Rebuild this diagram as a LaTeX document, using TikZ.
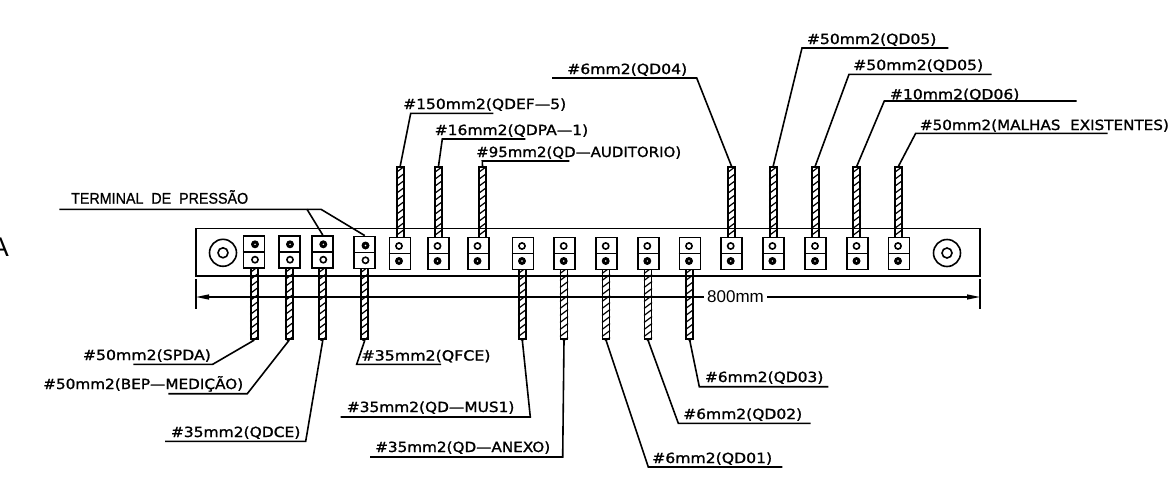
\documentclass[tikz,border=0pt]{standalone}
\usepackage{fontspec}
\usepackage{graphicx}
\setmainfont{Liberation Sans}
\newfontfamily\cadfont[FakeBold=1.2]{DejaVu Sans}
\newfontfamily\tpfont[FakeBold=0.8]{Liberation Sans}
\usetikzlibrary{arrows.meta}
\tikzset{
  lead/.style={draw=black,line width=1.6pt,line join=miter},
  barline/.style={draw=black,line width=1.6pt},
  termbox/.style={draw=black,line width=1.8pt,fill=white,minimum width=21pt,minimum height=32pt,inner sep=0pt},
  wirebox/.style={draw=black,line width=1.7pt,minimum width=7pt,inner sep=0pt},
  hatchline/.style={draw=black,line width=1.2pt},
  lbl/.style={inner sep=0pt,anchor=base west,font=\fontsize{14}{14}\cadfont},
  dimline/.style={draw=black,line width=1.3pt},
  dimtip/.style={-{Triangle[length=13pt,width=5pt]}}
}
\newcommand\lbl[5]{\node[lbl] (#1) at (#2,#3) {\resizebox{#4pt}{\height}{#5}};}
% wire: name, x, y top, y bottom
\newcommand\wirecable[4]{%
  \pgfmathsetmacro\wmid{(#3+#4)/2}\pgfmathsetmacro\whgt{#4-#3}%
  \node[wirebox,minimum height=\whgt pt] (#1) at (#2,\wmid) {};
  \begin{scope}
    \clip (#1.south west) rectangle (#1.north east);
    \pgfmathsetmacro\wnext{#3+7}%
    \foreach \yy in {#3,\wnext,...,#4}{
      \draw[hatchline] (#2-4,\yy+5.5) -- (#2+4,\yy-0.5);
    }
  \end{scope}
}
% terminal: name, x, y centre, y of solid screw, y of open screw, screw x
\newcommand\terminal[6]{%
  \node[termbox] (#1) at (#2,#3) {};
  \draw[line width=1.3pt] (#1.west) -- (#1.east);
  \fill (#6,#4) circle (4pt);
  \fill[white] (#6,#4) circle (0.8pt);
  \draw[line width=1.6pt] (#6,#5) circle (3.1pt);
}
\begin{document}
\begin{tikzpicture}[x=1pt,y=-1pt]
\useasboundingbox (0,0) rectangle (1170,479);
\fill[white] (0,0) rectangle (1170,479);

% letter cut by the left edge, as in the reference
\node[inner sep=0pt,anchor=base east,font=\fontsize{27}{27}\selectfont] (cut) at (9,256.3) {A};

% bar
\node[barline,minimum width=784pt,minimum height=47.5pt,inner sep=0pt] (bar) at (588,252.2) {};
\node[draw=black,line width=1.6pt,circle,minimum size=27pt,inner sep=0pt] (holeL) at (223,252.8) {};
\node[draw=black,line width=1.6pt,circle,minimum size=10pt,inner sep=0pt] (holeLi) at (223,252.8) {};
\node[draw=black,line width=1.6pt,circle,minimum size=27pt,inner sep=0pt] (holeR) at (947,253) {};
\node[draw=black,line width=1.6pt,circle,minimum size=10pt,inner sep=0pt] (holeRi) at (947,253) {};

% lower wires
\wirecable{w1}{254.2}{267}{339.3}
\wirecable{w2}{289.2}{267}{339.3}
\wirecable{w3}{322.8}{267}{339.3}
\wirecable{w4}{364.8}{267}{339.3}
\wirecable{w8}{522.3}{268}{339.3}
\wirecable{w9}{564}{268}{339.3}
\wirecable{w10}{606}{268}{339.3}
\wirecable{w11}{648}{268}{339.3}
\wirecable{w12}{689.7}{268}{339.3}
% upper wires
\wirecable{w5}{400.2}{167}{238}
\wirecable{w6}{438.5}{167}{238}
\wirecable{w7}{482.5}{167}{238}
\wirecable{w13}{731.5}{167}{238}
\wirecable{w14}{773.2}{167}{238}
\wirecable{w15}{815.2}{167}{238}
\wirecable{w16}{856.8}{167}{238}
\wirecable{w17}{898.5}{167}{238}

% terminals
\terminal{t1}{254}{252}{244.3}{259.7}{255}
\terminal{t2}{289.2}{252}{244.3}{259.7}{290}
\terminal{t3}{322.8}{252}{244.3}{259.7}{323.3}
\terminal{t4}{364.8}{252.5}{245.5}{260.3}{365.5}
\terminal{t5}{400}{253.5}{261}{246}{399}
\terminal{t6}{438.3}{253.5}{261}{246}{437.5}
\terminal{t7}{478.3}{253.5}{261}{246}{477.5}
\terminal{t8}{523}{253.5}{261}{246}{522}
\terminal{t9}{564.7}{253.5}{261}{246}{563.7}
\terminal{t10}{606.5}{253.5}{261}{246}{605.7}
\terminal{t11}{648.3}{253.5}{261}{246}{647.3}
\terminal{t12}{690}{253.5}{261}{246}{689}
\terminal{t13}{731.7}{253.5}{261}{246}{730.7}
\terminal{t14}{773.2}{253.5}{261}{246}{772.4}
\terminal{t15}{815.8}{253.5}{261}{246}{815}
\terminal{t16}{857.2}{253.5}{261}{246}{856.5}
\terminal{t17}{899}{253.5}{261}{246}{898}

% dimension
\coordinate (dL) at (196,297);
\coordinate (dR) at (980,297);
\node[inner sep=0pt,font=\fontsize{17}{17}\selectfont] (dimtxt) at (735.5,297) {800mm};
\draw[dimline,dimtip] (dimtxt.west) ++(-3,0) -- (dL);
\draw[dimline,dimtip] (dimtxt.east) ++(3,0) -- (dR);
\draw[dimline] (196,279) -- (196,309.3);
\draw[dimline] (980,279) -- (980,309.3);

% terminal label
\node[inner sep=0pt,anchor=base west,font=\fontsize{15.5}{15.5}\tpfont] (tp) at (71,203.7) {\resizebox{177pt}{\height}{TERMINAL\ \ DE\ \ PRESSÃO}};
\coordinate (tpa) at (59.3,209.3);
\coordinate (tpb) at (321,209.3);
\coordinate (tpc) at (307,209.3);
\draw[lead] (tpa) -- (tpb) -- (t4.north);
\draw[lead] (tpc) -- (t3.north);

% upper labels
\lbl{l5}{403}{109}{163}{\#150mm2(QDEF—5)}
\coordinate (a5) at (410.7,113.3); \coordinate (b5) at (493.3,113.3);
\draw[lead] (w5.north) -- (a5) -- (b5);
\lbl{l6}{434.5}{135}{153.5}{\#16mm2(QDPA—1)}
\coordinate (a6) at (442.3,139); \coordinate (b6) at (525.3,139);
\draw[lead] (w6.north) -- (a6) -- (b6);
\lbl{l7}{476}{157}{205}{\#95mm2(QD—AUDITORIO)}
\coordinate (a7) at (482.3,161); \coordinate (b7) at (569.3,161);
\draw[lead] (w7.north) -- (a7) -- (b7);
\lbl{l13}{567}{74}{120}{\#6mm2(QD04)}
\coordinate (a13) at (696.7,78); \coordinate (b13) at (552,78);
\draw[lead] (w13.north) -- (a13) -- (b13);
\lbl{l14}{806.7}{44}{129.5}{\#50mm2(QD05)}
\coordinate (a14) at (802,48); \coordinate (b14) at (948.3,48);
\draw[lead] (w14.north) -- (a14) -- (b14);
\lbl{l15}{853}{70}{130}{\#50mm2(QD05)}
\coordinate (a15) at (849,74.3); \coordinate (b15) at (991.7,74.3);
\draw[lead] (w15.north) -- (a15) -- (b15);
\lbl{l16}{889.7}{99.3}{129.5}{\#10mm2(QD06)}
\coordinate (a16) at (884.3,101); \coordinate (b16) at (1076.7,101);
\draw[lead] (w16.north) -- (a16) -- (b16);
\lbl{l17}{919.7}{130}{249}{\#50mm2(MALHAS\ \ EXISTENTES)}
\coordinate (a17) at (915.7,133.3); \coordinate (b17) at (1107.7,133.3);
\draw[lead] (w17.north) -- (a17) -- (b17);

% lower labels
\lbl{l1}{82.7}{360}{128}{\#50mm2(SPDA)}
\coordinate (a1) at (212.7,364.3); \coordinate (b1) at (133.3,364.3);
\draw[lead] (w1.south) -- (a1) -- (b1);
\lbl{l2}{43}{389}{200}{\#50mm2(BEP—MEDIÇÃO)}
\coordinate (a2) at (247.3,393.7); \coordinate (b2) at (168.3,393.7);
\draw[lead] (w2.south) -- (a2) -- (b2);
\lbl{l3}{170.7}{437}{129.5}{\#35mm2(QDCE)}
\coordinate (a3) at (305.7,441.3); \coordinate (b3) at (165,441.3);
\draw[lead] (w3.south) -- (a3) -- (b3);
\lbl{l4}{361.3}{360.5}{129}{\#35mm2(QFCE)}
\coordinate (a4) at (356.7,364.3); \coordinate (b4) at (441,364.3);
\draw[lead] (w4.south) -- (a4) -- (b4);
\lbl{l8}{346.7}{412}{167.5}{\#35mm2(QD—MUS1)}
\coordinate (a8) at (530.3,417); \coordinate (b8) at (340.7,417);
\draw[lead] (w8.south) -- (a8) -- (b8);
\lbl{l9}{375}{452}{175}{\#35mm2(QD—ANEXO)}
\coordinate (a9) at (562.7,457); \coordinate (b9) at (370,457);
\draw[lead] (w9.south) -- (a9) -- (b9);
\lbl{l10}{652}{463}{120}{\#6mm2(QD01)}
\coordinate (a10) at (648.3,467); \coordinate (b10) at (782.3,467);
\draw[lead] (w10.south) -- (a10) -- (b10);
\lbl{l11}{683}{419}{119}{\#6mm2(QD02)}
\coordinate (a11) at (678.3,423.3); \coordinate (b11) at (810.7,423.3);
\draw[lead] (w11.south) -- (a11) -- (b11);
\lbl{l12}{704.7}{382}{118.5}{\#6mm2(QD03)}
\coordinate (a12) at (699.3,386.7); \coordinate (b12) at (828.3,386.7);
\draw[lead] (w12.south) -- (a12) -- (b12);
\end{tikzpicture}
\end{document}
